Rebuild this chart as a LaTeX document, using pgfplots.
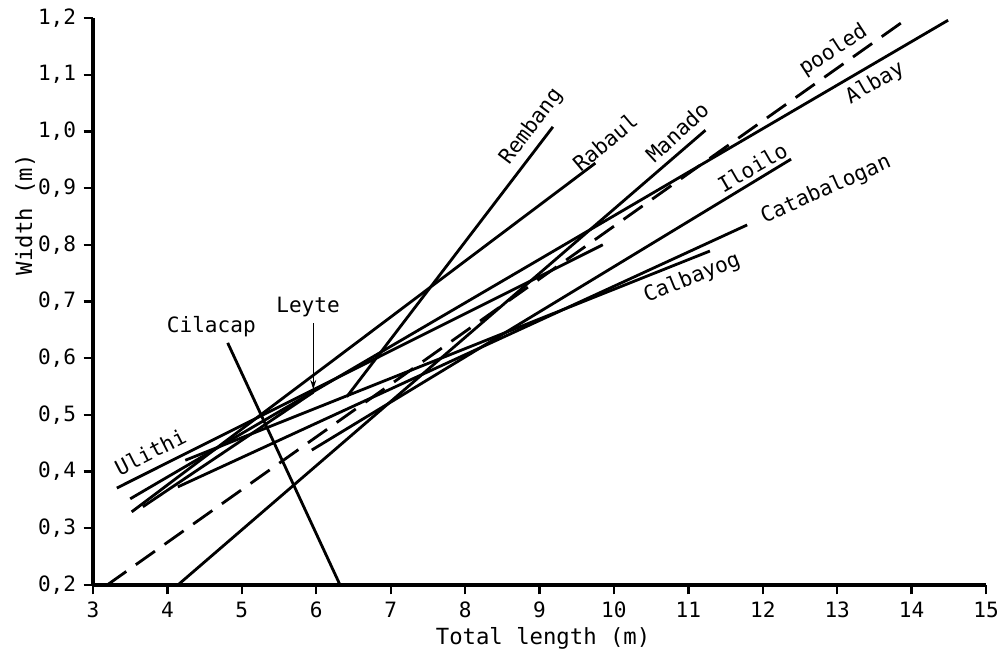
\documentclass[border=0pt]{standalone}
\usepackage{fontspec}
\setmainfont{DejaVu Sans Mono}
\usepackage{pgfplots}
\pgfplotsset{compat=1.18}
\usetikzlibrary{arrows.meta}
\begin{document}
\fontsize{9}{11}\selectfont
\begin{tikzpicture}[x=0.015cm,y=0.015cm]
\begin{axis}[
  scale only axis,
  width=13.395cm, height=8.505cm,
  xmin=3, xmax=15, ymin=0.2, ymax=1.2,
  axis lines=left,
  axis line style={-, line width=1.4pt},
  xtick={3,4,...,15},
  ytick={0.2,0.3,0.4,0.5,0.6,0.7,0.8,0.9,1.0,1.1,1.2},
  tick align=outside,
  major tick length=4pt,
  tick style={line width=1pt, black},
  /pgf/number format/assume math mode=true,
  yticklabel style={/pgf/number format/.cd, fixed, fixed zerofill, precision=1, use comma},
  xticklabel style={/pgf/number format/.cd, fixed, precision=0},
  ticklabel style={font=\fontsize{9}{11}\selectfont},
  clip=false,
]
% pooled (dashed)
\addplot[black, line width=1.2pt, dash pattern=on 10pt off 5pt] coordinates {(3.19,0.20) (13.91,1.196)};
% Albay
\addplot[black, line width=1.2pt] coordinates {(3.50,0.352) (14.49,1.196)};
% Ulithi
\addplot[black, line width=1.2pt] coordinates {(3.32,0.371) (9.85,0.800)};
% Rabaul
\addplot[black, line width=1.2pt] coordinates {(3.52,0.329) (9.75,0.944)};
% Rembang
\addplot[black, line width=1.2pt] coordinates {(6.41,0.532) (9.18,1.008)};
% Manado
\addplot[black, line width=1.2pt] coordinates {(4.14,0.20) (11.23,1.002)};
% Cilacap
\addplot[black, line width=1.2pt] coordinates {(4.81,0.627) (6.32,0.20)};
% Iloilo
\addplot[black, line width=1.2pt] coordinates {(5.94,0.438) (12.38,0.951)};
% Catabalogan
\addplot[black, line width=1.2pt] coordinates {(4.14,0.373) (11.79,0.835)};
% Calbayog
\addplot[black, line width=1.2pt] coordinates {(4.24,0.420) (11.29,0.789)};
% Leyte
\addplot[black, line width=1.2pt] coordinates {(3.67,0.338) (5.96,0.540)};

\node[rotate=53] at (axis cs:8.89,1.008) {Rembang};
\node[rotate=40] at (axis cs:9.88,0.981) {Rabaul};
\node[rotate=43] at (axis cs:10.85,0.999) {Manado};
\node[rotate=33] at (axis cs:12.95,1.143) {pooled};
\node[rotate=30] at (axis cs:13.51,1.085) {Albay};
\node[rotate=30] at (axis cs:11.86,0.937) {Iloilo};
\node[rotate=24] at (axis cs:12.85,0.897) {Catabalogan};
\node[rotate=22] at (axis cs:11.05,0.741) {Calbayog};
\node at (axis cs:4.59,0.655) {Cilacap};
\node at (axis cs:5.89,0.690) {Leyte};
\node[rotate=27] at (axis cs:3.77,0.435) {Ulithi};
\draw[line width=0.4pt, -{Stealth[length=4pt,width=2.5pt]}] (axis cs:5.96,0.662) -- (axis cs:5.96,0.545);
\node[font=\fontsize{9.5}{11}\selectfont] at (rel axis cs:0.504,-0.0935) {Total length (m)};
\node[font=\fontsize{9.5}{11}\selectfont, rotate=90] at (rel axis cs:-0.076,0.653) {Width (m)};
\end{axis}
\pgfresetboundingbox
\path[use as bounding box] (current axis.origin) ++(-93,-69) rectangle ++(1002,654);
\end{tikzpicture}
\end{document}
